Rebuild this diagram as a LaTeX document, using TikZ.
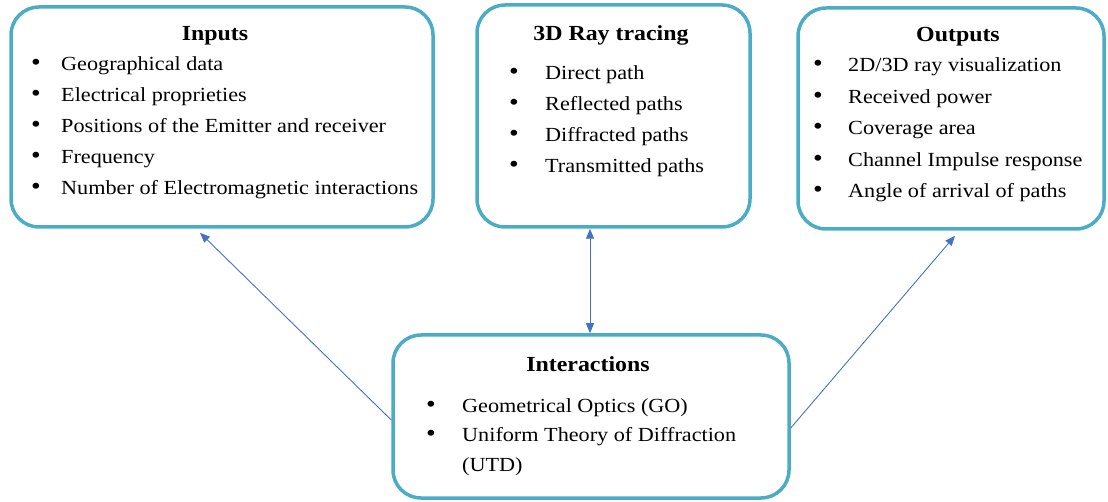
\documentclass[tikz,border=0pt]{standalone}
\usepackage{fontspec}
\setmainfont[FakeStretch = 1.11]{Liberation Serif}
\usepackage{xcolor}
\usepackage{tikz}
\usetikzlibrary{positioning,arrows.meta}

\definecolor{boxline}{HTML}{4BACC6}
\definecolor{linkline}{HTML}{4472C4}

\def\bgap{31pt}
\newcommand{\bitem}[1]{\makebox[\bgap][l]{\fontsize{25}{0}\selectfont\textbullet}#1}

\begin{document}
\begin{tikzpicture}[x = 1pt, y = -1pt,
  block/.style = {draw = boxline, line width = 3.5pt, rounded corners = 28pt, inner sep = 0pt},
  title/.style = {anchor = base, inner sep = 0pt, font = \bfseries\fontsize{21.5}{24}\selectfont},
  items/.style = {anchor = base west, inner sep = 0pt, align = left, font = \fontsize{20}{31}\selectfont},
  bulletgap/.code = {\def\bgap{#1}},
  link/.style = {draw = linkline, line width = 0.9pt, -{Triangle[length = 10pt, width = 8pt]}}]

  \useasboundingbox (0, 0) rectangle (1108, 502);

  \node[block, minimum width = 422pt, minimum height = 220pt] (inputs) at (222, 117) {};

  \node[block, minimum width = 273pt, minimum height = 222pt] (raytr) at (613.5, 116) {};

  \node[block, minimum width = 306pt, minimum height = 221pt] (outputs) at (951, 118.5) {};

  \node[block, minimum width = 396pt, minimum height = 163pt] (inter) at (591, 416.5) {};

  % lists are placed at the baseline of their last line
  \node[title] (inputsTitle) at (215, 41) {Inputs};
  \node[items, bulletgap = 30pt] (inputsList) at (31, 195) {
    \bitem{Geographical data}\\
    \bitem{Electrical proprieties}\\
    \bitem{Positions of the Emitter and receiver}\\
    \bitem{Frequency}\\
    \bitem{Number of Electromagnetic interactions}
  };

  \node[title] (raytrTitle) at (611, 41) {3D Ray tracing};
  \node[items, bulletgap = 36pt] (raytrList) at (509, 173) {
    \bitem{Direct path}\\
    \bitem{Reflected paths}\\
    \bitem{Diffracted paths}\\
    \bitem{Transmitted paths}
  };

  \node[title] (outputsTitle) at (958, 42) {Outputs};
  \node[items, bulletgap = 35pt, font = \fontsize{20}{31.5}\selectfont] (outputsList) at (813, 198) {
    \bitem{2D/3D ray visualization}\\
    \bitem{Received power}\\
    \bitem{Coverage area}\\
    \bitem{Channel Impulse response}\\
    \bitem{Angle of arrival of paths}
  };

  \node[title] (interTitle) at (588, 371) {Interactions};
  \node[items, bulletgap = 36pt, font = \fontsize{20}{29.5}\selectfont] (interList) at (426, 471) {
    \bitem{Geometrical Optics (GO)}\\
    \bitem{Uniform Theory of Diffraction}\\
    \hspace*{36pt}(UTD)
  };

  \coordinate (rayFoot) at (inter.north |- raytr.south);

  \draw[link] ([yshift = -3.5pt]inter.west) -- ([xshift = -22pt, yshift = -4pt]inputs.south);
  \draw[link, {Triangle[length = 10pt, width = 8pt]}-{Triangle[length = 10pt, width = 8pt]}] ([xshift = -1pt]rayFoot) -- ([xshift = -1pt]inter.north);
  \draw[link] ([yshift = -11.5pt]inter.east) -- ([xshift = 4pt, yshift = -5pt]outputs.south);
\end{tikzpicture}
\end{document}
